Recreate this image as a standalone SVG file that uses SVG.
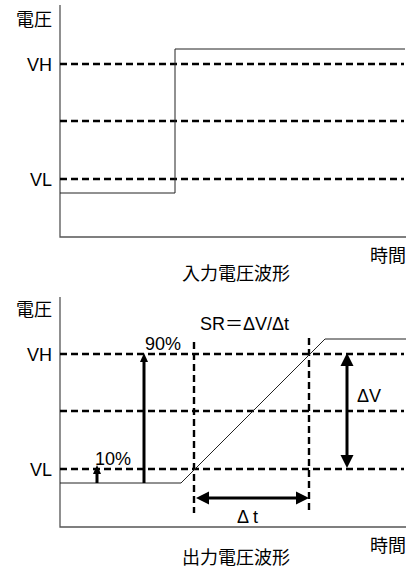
<svg xmlns="http://www.w3.org/2000/svg" width="416" height="569" viewBox="0 0 416 569">
  <style>
    .axis { stroke: #555; stroke-width: 1.3; fill: none; }
    .sig { stroke: #222; stroke-width: 1; fill: none; }
    .dash { stroke: #000; stroke-width: 2.4; stroke-dasharray: 7 4; fill: none; }
    .arr { stroke: #000; stroke-width: 3; fill: none; }
    .t { font-family: "Liberation Sans", "Noto Sans CJK JP", sans-serif; font-size: 18px; fill: #000; }
  </style>
  <defs>
    <marker id="hs" markerUnits="userSpaceOnUse" markerWidth="10" markerHeight="10" viewBox="0 -5 10 10" refX="0" refY="0" orient="auto">
      <path d="M0,-4 L9,0 L0,4 Z" fill="#000"/>
    </marker>
    <marker id="hb" markerUnits="userSpaceOnUse" markerWidth="16" markerHeight="16" viewBox="0 -8 16 16" refX="0" refY="0" orient="auto-start-reverse">
      <path d="M0,-6.5 L13,0 L0,6.5 Z" fill="#000"/>
    </marker>
  </defs>

  <!-- Top chart: input waveform -->
  <g id="input-chart">
    <g id="input-axes">
      <path class="axis" d="M60,5 V237 H406"/>
    </g>
    <g id="input-levels">
      <line class="dash" x1="60" y1="64" x2="404" y2="64"/>
      <line class="dash" x1="60" y1="121" x2="404" y2="121"/>
      <line class="dash" x1="60" y1="179" x2="404" y2="179"/>
    </g>
    <g id="input-signal">
      <path class="sig" d="M60,193 H175 V49 H405"/>
    </g>
    <g id="input-labels">
      <text class="t" x="52" y="26" text-anchor="end">電圧</text>
      <text class="t" x="52" y="71" text-anchor="end">VH</text>
      <text class="t" x="52" y="186" text-anchor="end">VL</text>
      <text class="t" x="406" y="262" text-anchor="end">時間</text>
      <text class="t" x="236" y="280" text-anchor="middle">入力電圧波形</text>
    </g>
  </g>

  <!-- Bottom chart: output waveform -->
  <g id="output-chart">
    <g id="output-axes">
      <path class="axis" d="M60,297 V527 H406"/>
    </g>
    <g id="output-levels">
      <line class="dash" x1="60" y1="354" x2="404" y2="354"/>
      <line class="dash" x1="60" y1="411" x2="404" y2="411"/>
      <line class="dash" x1="60" y1="469" x2="404" y2="469"/>
      <line class="dash" x1="194" y1="342" x2="194" y2="513"/>
      <line class="dash" x1="309" y1="338" x2="309" y2="513"/>
    </g>
    <g id="output-signal">
      <path class="sig" d="M60,483 H181 L325,339 H406"/>
    </g>
    <g id="connectors">
      <line class="arr" x1="97" y1="483" x2="97" y2="474" marker-end="url(#hs)"/>
      <line class="arr" x1="144" y1="483" x2="144" y2="362" marker-end="url(#hs)"/>
      <line class="arr" x1="347" y1="366" x2="347" y2="455" marker-start="url(#hb)" marker-end="url(#hb)"/>
      <line class="arr" x1="209" y1="498" x2="296" y2="498" marker-start="url(#hb)" marker-end="url(#hb)"/>
    </g>
    <g id="output-labels">
      <text class="t" x="52" y="316" text-anchor="end">電圧</text>
      <text class="t" x="52" y="361" text-anchor="end">VH</text>
      <text class="t" x="52" y="476" text-anchor="end">VL</text>
      <text class="t" x="200" y="330">SR＝ΔV/Δt</text>
      <text class="t" x="145" y="350">90%</text>
      <text class="t" x="95" y="465">10%</text>
      <text class="t" x="357" y="402">ΔV</text>
      <text class="t" x="237" y="523">Δ t</text>
      <text class="t" x="406" y="552" text-anchor="end">時間</text>
      <text class="t" x="236" y="564" text-anchor="middle">出力電圧波形</text>
    </g>
  </g>
</svg>
